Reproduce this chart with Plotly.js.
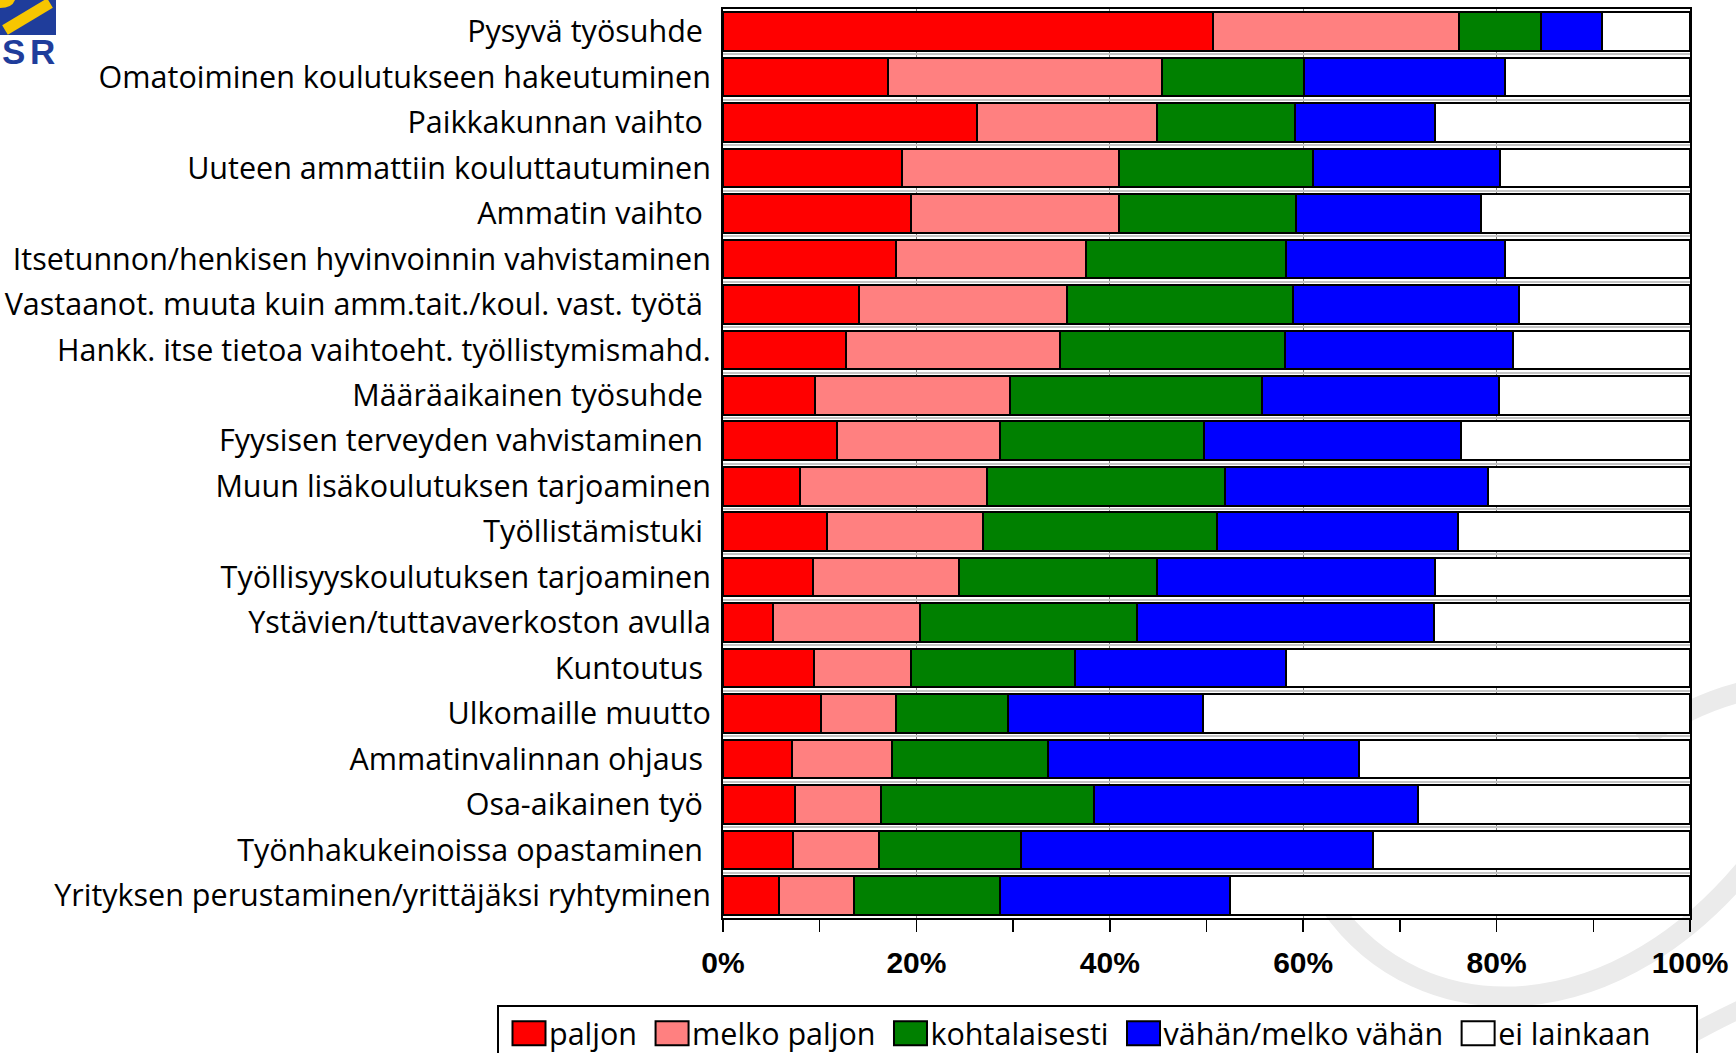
<!DOCTYPE html>
<html>
<head>
<meta charset="utf-8">
<script src="https://cdn.plot.ly/plotly-3.0.1.min.js"></script>
<style>
html,body{margin:0;padding:0;background:#ffffff;}
#chart{width:1736px;height:1053px;}
</style>
</head>
<body>
<div id="chart"></div>
<script>
// ---- data (percent of respondents) ----
const categories = [
  "Pysyvä työsuhde\u00a0",
  "Omatoiminen koulutukseen hakeutuminen",
  "Paikkakunnan vaihto\u00a0",
  "Uuteen ammattiin kouluttautuminen",
  "Ammatin vaihto\u00a0",
  "Itsetunnon/henkisen hyvinvoinnin vahvistaminen",
  "Vastaanot. muuta kuin amm.tait./koul. vast. työtä\u00a0",
  "Hankk. itse tietoa vaihtoeht. työllistymismahd.",
  "Määräaikainen työsuhde\u00a0",
  "Fyysisen terveyden vahvistaminen\u00a0",
  "Muun lisäkoulutuksen tarjoaminen",
  "Työllistämistuki\u00a0",
  "Työllisyyskoulutuksen tarjoaminen",
  "Ystävien/tuttavaverkoston avulla",
  "Kuntoutus\u00a0",
  "Ulkomaille muutto",
  "Ammatinvalinnan ohjaus\u00a0",
  "Osa-aikainen työ\u00a0",
  "Työnhakukeinoissa opastaminen\u00a0",
  "Yrityksen perustaminen/yrittäjäksi ryhtyminen"
];
const paljon        = [50.7, 17.1, 26.3, 18.5, 19.4, 17.9, 14.1, 12.7,  9.5, 11.8,  8.0, 10.8,  9.3,  5.2,  9.4, 10.1,  7.1,  7.4,  7.2,  5.8];
const melkoPaljon   = [25.4, 28.3, 18.6, 22.4, 21.5, 19.6, 21.5, 22.2, 20.2, 16.8, 19.3, 16.1, 15.1, 15.2, 10.0,  7.8, 10.4,  8.9,  8.9,  7.7];
const kohtalaisesti = [ 8.5, 14.7, 14.2, 20.1, 18.4, 20.7, 23.3, 23.2, 26.0, 21.1, 24.6, 24.2, 20.5, 22.4, 17.0, 11.6, 16.1, 22.1, 14.7, 15.1];
const vahan         = [ 6.3, 20.8, 14.5, 19.3, 19.1, 22.7, 23.4, 23.6, 24.5, 26.6, 27.2, 24.9, 28.7, 30.7, 21.8, 20.1, 32.2, 33.5, 36.4, 23.8];
const eiLainkaan    = [ 9.1, 19.1, 26.4, 19.7, 21.6, 19.1, 17.7, 18.3, 19.8, 23.7, 20.9, 24.0, 26.4, 26.5, 41.8, 50.4, 34.2, 28.1, 32.8, 47.6];

const seriesNames  = ["paljon", "melko paljon", "kohtalaisesti", "vähän/melko vähän", "ei lainkaan\u00a0\u00a0\u00a0\u00a0\u00a0"];
const seriesColors = ["#ff0000", "#ff8080", "#008000", "#0000ff", "#ffffff"];
const xTickValues  = [0, 20, 40, 60, 80, 100];
const xTickLabels  = ["0%", "20%", "40%", "60%", "80%", "100%"];
const xMinorTicks  = [10, 30, 50, 70, 90];

// ---- geometry helpers for decorations (pixel -> paper) ----
const W = 1736, H = 1053;
const M = {l: 723, r: 46, t: 9, b: 135};
const PW = W - M.l - M.r, PH = H - M.t - M.b;
const px = x => (x - M.l) / PW;
const py = y => (H - M.b - y) / PH;

const seriesValues = [paljon, melkoPaljon, kohtalaisesti, vahan, eiLainkaan];
const traces = seriesValues.map((vals, i) => ({
  type: "bar",
  orientation: "h",
  name: seriesNames[i],
  y: categories,
  x: vals,
  marker: {color: seriesColors[i], line: {color: "#000000", width: 2}},
  hoverinfo: "x+y+name"
}));

function pathFromPx(pts) {
  return pts.map(p => {
    const c = p[0];
    const coords = [];
    for (let k = 1; k < p.length; k += 2) coords.push(px(p[k]) + "," + py(p[k + 1]));
    return c + coords.join(" ");
  }).join(" ");
}

const swoosh = "#ebebeb";
const shapes = [
  // watermark swooshes
  {type: "path", xref: "paper", yref: "paper", layer: "below",
   path: pathFromPx([["M", 1330, 905], ["C", 1420, 1035, 1620, 1035, 1760, 850]]),
   line: {color: swoosh, width: 20}},
  {type: "path", xref: "paper", yref: "paper", layer: "below",
   path: pathFromPx([["M", 1760, 688], ["Q", 1700, 698, 1640, 740]]),
   line: {color: swoosh, width: 20}},
  {type: "path", xref: "paper", yref: "paper", layer: "below",
   path: pathFromPx([["M", 1690, 1035], ["Q", 1720, 1018, 1760, 1000]]),
   line: {color: swoosh, width: 18}},
  // logo
  {type: "rect", xref: "paper", yref: "paper", layer: "above",
   x0: px(0), x1: px(56), y0: py(0), y1: py(35),
   fillcolor: "#1f3d9b", line: {width: 0}},
  {type: "line", xref: "paper", yref: "paper", layer: "above",
   x0: px(5), y0: py(30), x1: px(50), y1: py(3),
   line: {color: "#f7c600", width: 11}},
  {type: "path", xref: "paper", yref: "paper", layer: "above",
   path: pathFromPx([["M", 0, 0], ["L", 15, 0], ["Q", 12, 8, 0, 8], ["Z"]]),
   fillcolor: "#f7c600", line: {width: 0}}
];

const annotations = [
  {xref: "paper", yref: "paper", x: px(0), y: py(52), xanchor: "left", yanchor: "middle",
   text: "S", showarrow: false, font: {family: "Liberation Sans", size: 35, weight: 700, color: "#1f3d9b"}},
  {xref: "paper", yref: "paper", x: px(57), y: py(52), xanchor: "right", yanchor: "middle",
   text: "R", showarrow: false, font: {family: "Liberation Sans", size: 35, weight: 700, color: "#1f3d9b"}}
];

const layout = {
  width: W, height: H,
  margin: {l: M.l, r: M.r, t: M.t, b: M.b, pad: 0, autoexpand: false},
  paper_bgcolor: "#ffffff",
  plot_bgcolor: "rgba(0,0,0,0)",
  barmode: "stack",
  bargap: 0.15,
  showlegend: true,
  legend: {
    orientation: "h", traceorder: "normal",
    x: px(497), xanchor: "left", y: py(1005), yanchor: "top",
    bgcolor: "#ffffff", bordercolor: "#000000", borderwidth: 2,
    font: {family: "Open Sans", size: 30.5, color: "#000000"},
    itemwidth: 40, itemclick: false, itemdoubleclick: false
  },
  xaxis: {
    range: [0, 100], fixedrange: true,
    tickmode: "array", tickvals: xTickValues, ticktext: xTickLabels,
    ticks: "outside", ticklen: 12, tickwidth: 1.5, tickcolor: "#000000",
    tickfont: {family: "Liberation Sans", size: 30, weight: 700, color: "#000000"},
    ticklabelstandoff: 5,
    showline: true, linecolor: "#000000", linewidth: 2, mirror: true,
    showgrid: true, gridcolor: "#808080", gridwidth: 1,
    zeroline: false,
    minor: {tickmode: "array", tickvals: xMinorTicks, ticks: "outside", ticklen: 12, tickwidth: 1.5, tickcolor: "#000000", showgrid: false}
  },
  yaxis: {
    type: "category", autorange: "reversed", fixedrange: true,
    ticks: "", tickson: "boundaries",
    showline: true, linecolor: "#000000", linewidth: 2, mirror: true,
    showgrid: true, gridcolor: "#c4c4c4", gridwidth: 2, zeroline: false,
    tickfont: {family: "Open Sans", size: 30.5, color: "#000000"},
    ticklabelstandoff: 4
  },
  shapes: shapes,
  annotations: annotations,
  font: {family: "Open Sans", color: "#000000"}
};

// enlarge legend swatches to the reference's wide boxes
function widenSwatches() {
  const gd = document.getElementById("chart");
  gd.querySelectorAll(".legend .legendpoints path").forEach(p => {
    const d = p.getAttribute("d") || "";
    if (d.indexOf("H-6") !== -1) {
      p.setAttribute("d", "M21.5,12H-11.5V-12H21.5Z");
    }
  });
}

Plotly.newPlot("chart", traces, layout, {displayModeBar: false, staticPlot: true}).then(gd => {
  widenSwatches();
  gd.on("plotly_afterplot", widenSwatches);
  setTimeout(widenSwatches, 50);
  setTimeout(widenSwatches, 400);
});
</script>
</body>
</html>
